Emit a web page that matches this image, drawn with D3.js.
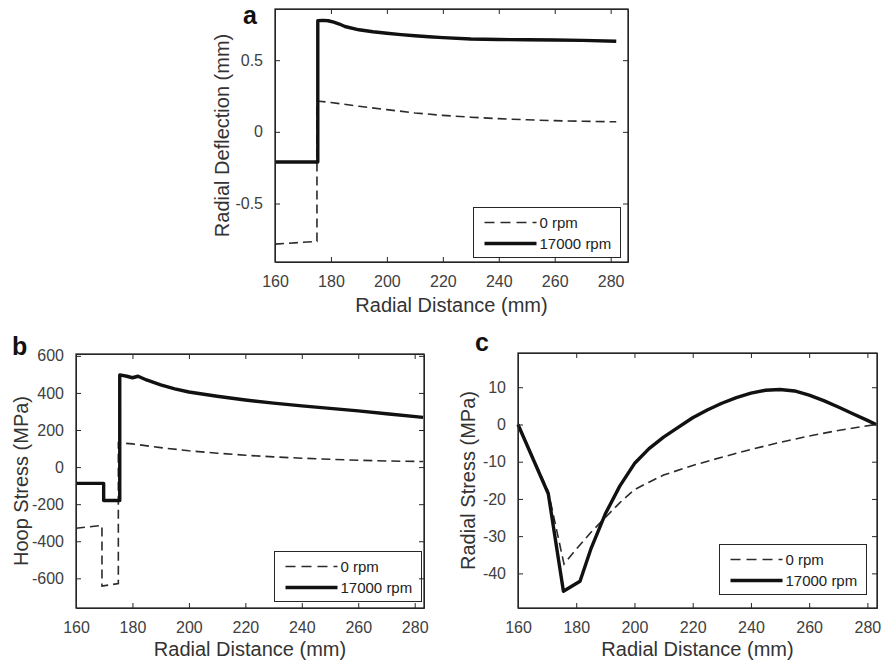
<!DOCTYPE html>
<html>
<head>
<meta charset="utf-8">
<script src="https://cdn.jsdelivr.net/npm/d3@7"></script>
<style>
  body { margin: 0; background: #fff; }
  svg text { font-family: "Liberation Sans", Arial, Helvetica, sans-serif; }
</style>
</head>
<body>
<svg id="fig" width="881" height="663"></svg>
<script>
// shared bits
var xTicks = [160, 180, 200, 220, 240, 260, 280];
var seriesNames = ["0 rpm", "17000 rpm"];

// (a) radial deflection (mm)
var deflTicks = [-0.5, 0, 0.5];
var defl0X = [160, 175, 175, 180, 190, 200, 210, 220, 230, 240, 250, 260, 270, 282];
var defl0Y = [-0.783, -0.764, 0.215, 0.205, 0.178, 0.155, 0.132, 0.115, 0.102, 0.092, 0.084, 0.078, 0.074, 0.07];
var defl1X = [160, 175.3, 175.3, 177, 179, 181, 183, 185, 190, 195, 200, 205, 210, 215, 220, 230, 240, 250, 260, 270, 282];
var defl1Y = [-0.21, -0.21, 0.775, 0.778, 0.775, 0.765, 0.752, 0.735, 0.712, 0.698, 0.688, 0.678, 0.67, 0.663, 0.657, 0.648, 0.644, 0.642, 0.641, 0.638, 0.632];

// (b) hoop stress (MPa)
var hoopTicks = [-600, -400, -200, 0, 200, 400, 600];
var hoop0X = [160, 169.2, 169.2, 175, 175, 180, 190, 200, 210, 220, 230, 240, 250, 260, 270, 283];
var hoop0Y = [-330, -315, -642, -628, 132, 125, 105, 88, 75, 64, 55, 48, 42, 37, 33, 30];
var hoop1X = [160, 169.8, 169.8, 175.5, 175.5, 178, 180, 182, 185, 190, 195, 200, 210, 220, 230, 240, 250, 260, 270, 283];
var hoop1Y = [-88, -88, -180, -180, 497, 490, 482, 490, 470, 443, 422, 405, 382, 362, 345, 330, 317, 303, 288, 268];

// (c) radial stress (MPa)
var radTicks = [-40, -30, -20, -10, 0, 10];
var rad0X = [160, 170.4, 175.8, 180, 185, 190, 195, 200, 205, 210, 220, 230, 240, 250, 260, 270, 283];
var rad0Y = [0, -18, -37.5, -33.5, -29, -25, -21, -17.5, -15.5, -13.6, -11, -8.8, -6.7, -4.8, -3.1, -1.6, 0];
var rad1X = [160, 170.4, 175.6, 181.3, 185, 190, 195, 200, 205, 210, 215, 220, 225, 230, 235, 240, 245, 250, 255, 260, 265, 270, 275, 280, 283];
var rad1Y = [0, -18.6, -44.8, -42.1, -33.5, -24, -16.5, -10.5, -6.5, -3.4, -0.8, 1.8, 3.9, 5.7, 7.2, 8.4, 9.2, 9.4, 9.0, 7.9, 6.4, 4.7, 2.9, 1.1, 0];

var svg = d3.select("#fig");

drawPanel({
    letter: "a", letterX: 243, letterY: 24,
    left: 275, right: 628, top: 9, bottom: 262,
    xDomain: [160, 286.2], yDomain: [-0.908, 0.857], yTicks: deflTicks,
    yLabel: "Radial Deflection (mm)", yLabelX: 229, xLabelY: 312,
    x0: defl0X, y0: defl0Y, x1: defl1X, y1: defl1Y,
    legend: {x: 473, y: 207}
});

drawPanel({
    letter: "b", letterX: 12, letterY: 355,
    left: 76, right: 424, top: 354, bottom: 608,
    xDomain: [160, 283.3], yDomain: [-760, 610], yTicks: hoopTicks,
    yLabel: "Hoop Stress (MPa)", yLabelX: 28, xLabelY: 656,
    x0: hoop0X, y0: hoop0Y, x1: hoop1X, y1: hoop1Y,
    legend: {x: 274, y: 551}
});

drawPanel({
    letter: "c", letterX: 475, letterY: 351,
    left: 518, right: 877, top: 353, bottom: 608,
    xDomain: [160, 283.3], yDomain: [-49.3, 19.2], yTicks: radTicks,
    yLabel: "Radial Stress (MPa)", yLabelX: 475, xLabelY: 656,
    x0: rad0X, y0: rad0Y, x1: rad1X, y1: rad1Y,
    legend: {x: 719, y: 544}
});

function drawPanel(p) {
    var x = d3.scaleLinear().domain(p.xDomain).range([p.left, p.right]);
    var y = d3.scaleLinear().domain(p.yDomain).range([p.bottom, p.top]);
    var g = svg.append("g");

    var line = d3.line().x(d => x(d[0])).y(d => y(d[1]));

    g.append("path")
        .datum(d3.zip(p.x0, p.y0))
        .attr("d", line)
        .attr("fill", "none")
        .attr("stroke", "#2b2b2b")
        .attr("stroke-width", 1.6)
        .attr("stroke-dasharray", "9,5");
    g.append("path")
        .datum(d3.zip(p.x1, p.y1))
        .attr("d", line)
        .attr("fill", "none")
        .attr("stroke", "#111")
        .attr("stroke-width", 3.4)
        .attr("stroke-linejoin", "round");

    // axis titles
    g.append("text")
        .attr("x", (p.left + p.right) / 2).attr("y", p.xLabelY)
        .attr("text-anchor", "middle")
        .attr("font-size", 20)
        .attr("fill", "#333")
        .text("Radial Distance (mm)");
    g.append("text")
        .attr("transform", "translate(" + p.yLabelX + "," + (p.top + p.bottom) / 2 + ") rotate(-90)")
        .attr("text-anchor", "middle")
        .attr("font-size", 20)
        .attr("fill", "#333")
        .text(p.yLabel);

    g.append("text")
        .attr("x", p.letterX).attr("y", p.letterY)
        .attr("font-size", 25)
        .attr("font-weight", "bold")
        .attr("fill", "#111")
        .text(p.letter);

    // legend
    var lg = g.append("g").attr("transform", "translate(" + (p.legend.x + 0.5) + "," + (p.legend.y + 0.5) + ")");
    lg.append("rect")
        .attr("width", 147).attr("height", 50)
        .attr("fill", "#fff")
        .attr("stroke", "#262626");
    seriesNames.forEach((name, i) => {
        var ly = 15 + i * 21;
        lg.append("line")
            .attr("x1", 11).attr("x2", 63).attr("y1", ly).attr("y2", ly)
            .attr("stroke", i == 0 ? "#2b2b2b" : "#111")
            .attr("stroke-width", i == 0 ? 1.6 : 3.4)
            .attr("stroke-dasharray", i == 0 ? "10,6" : null);
        lg.append("text")
            .attr("x", 66).attr("y", ly).attr("dy", "0.35em")
            .attr("font-size", 15)
            .attr("fill", "#222")
            .text(name);
    });

    // axes after everything else; ticks point inward
    var bottomAxis = g.append("g").attr("transform", "translate(0," + p.bottom + ")")
        .call(d3.axisBottom(x).tickValues(xTicks).tickSizeInner(-5).tickSizeOuter(0).tickPadding(14).tickFormat(d => String(d)));
    var leftAxis = g.append("g").attr("transform", "translate(" + p.left + ",0)")
        .call(d3.axisLeft(y).tickValues(p.yTicks).tickSizeInner(-5).tickSizeOuter(0).tickPadding(12).tickFormat(d => String(d)));
    g.append("g").attr("transform", "translate(0," + p.top + ")")
        .call(d3.axisTop(x).tickValues(xTicks).tickSizeInner(-5).tickSizeOuter(0).tickFormat(() => ""));
    g.append("g").attr("transform", "translate(" + p.right + ",0)")
        .call(d3.axisRight(y).tickValues(p.yTicks).tickSizeInner(-5).tickSizeOuter(0).tickFormat(() => ""));

    [bottomAxis, leftAxis].forEach(a => a.selectAll(".tick text")
        .attr("font-size", 16)
        .attr("font-family", "Liberation Sans, Arial, sans-serif")
        .attr("fill", "#404040"));
    g.selectAll(".domain, .tick line").attr("stroke", "#262626");

    // frame
    g.append("rect")
        .attr("x", p.left).attr("y", p.top)
        .attr("width", p.right - p.left).attr("height", p.bottom - p.top)
        .attr("fill", "none")
        .attr("stroke", "#262626")
        .attr("stroke-width", 1.3);
}
</script>
</body>
</html>
